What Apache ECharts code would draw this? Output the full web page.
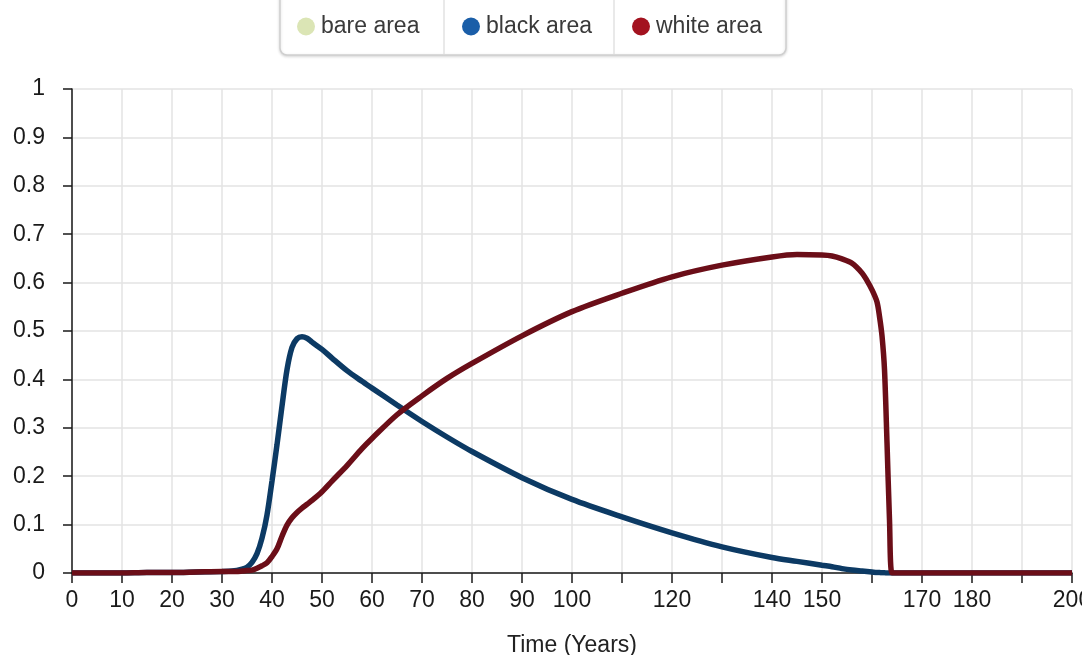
<!DOCTYPE html>
<html>
<head>
<meta charset="utf-8">
<script src="https://cdn.jsdelivr.net/npm/echarts@6/dist/echarts.min.js"></script>
<style>
  html, body { margin: 0; padding: 0; background: #ffffff; }
  #chart { width: 1082px; height: 655px; }
</style>
</head>
<body>
<div id="chart"></div>
<script>
// ---- data ----
const seriesNames = ['bare area', 'black area', 'white area'];
const times = [0, 10, 15, 20, 25, 30, 32, 34, 35, 36, 37, 38, 39, 40, 41, 42, 43, 44, 45, 46, 47, 48, 50, 52, 55, 58, 60, 65, 70, 75, 80, 90, 100, 110, 120, 130, 140, 145, 150, 152, 154, 156, 158, 159, 160, 161, 161.5, 162, 162.5, 163, 163.5, 164, 165, 170, 180, 190, 200];
const blackArea = [0, 0, 0.001, 0.001, 0.002, 0.003, 0.004, 0.008, 0.012, 0.022, 0.04, 0.072, 0.12, 0.19, 0.265, 0.345, 0.42, 0.466, 0.484, 0.488, 0.485, 0.477, 0.462, 0.444, 0.418, 0.396, 0.382, 0.347, 0.313, 0.281, 0.251, 0.197, 0.152, 0.116, 0.083, 0.054, 0.032, 0.024, 0.016, 0.013, 0.009, 0.006, 0.004, 0.003, 0.002, 0.001, 0.0008, 0.0005, 0.0003, 0.0001, 0, 0, 0, 0, 0, 0, 0];
const whiteArea = [0, 0, 0.001, 0.001, 0.002, 0.003, 0.003, 0.004, 0.005, 0.006, 0.01, 0.015, 0.021, 0.034, 0.05, 0.076, 0.099, 0.114, 0.125, 0.134, 0.142, 0.15, 0.168, 0.19, 0.222, 0.257, 0.278, 0.327, 0.366, 0.402, 0.433, 0.49, 0.54, 0.578, 0.612, 0.636, 0.653, 0.658, 0.657, 0.655, 0.649, 0.64, 0.62, 0.604, 0.585, 0.56, 0.53, 0.49, 0.42, 0.27, 0.11, 0, 0, 0, 0, 0, 0];
const bareArea = []; // not visible in the reference
const xTickLabels = [0, 10, 20, 30, 40, 50, 60, 70, 80, 90, 100, 120, 140, 150, 170, 180, 200];
const xAxisTitle = 'Time (Years)';

const legendColors = ['#dbe5b5', '#1a5ea8', '#a3121f'];
const lineColors = ['#dbe5b5', '#0c3a64', '#6b0e18'];

function pairs(xs, ys) { return ys.map((v, i) => [xs[i], v]); }

const chart = echarts.init(document.getElementById('chart'), null, { renderer: 'canvas' });
const FONT = 'Liberation Sans, Arial, sans-serif';
const FS = 23;

function legendFor(i, left) {
  return {
    show: true,
    left: left,
    top: 15,
    padding: 0,
    icon: 'circle',
    itemWidth: 18,
    itemHeight: 18,
    selectedMode: false,
    textStyle: { fontFamily: FONT, fontSize: FS, color: '#3a3a3a', padding: [2, 0, 0, 1] },
    data: [{ name: seriesNames[i], itemStyle: { color: legendColors[i] } }]
  };
}

chart.setOption({
  animation: false,
  backgroundColor: '#ffffff',
  graphic: [
    { type: 'rect', shape: { x: 280, y: -12, width: 506, height: 67, r: 7 },
      style: { fill: '#ffffff', stroke: '#cfcfcf', lineWidth: 1.5, shadowBlur: 3, shadowColor: 'rgba(0,0,0,0.15)', shadowOffsetY: 1 }, z: -1 },
    { type: 'line', shape: { x1: 444, y1: 0, x2: 444, y2: 54 }, style: { stroke: '#e2e2e2', lineWidth: 1.5 }, z: -1 },
    { type: 'line', shape: { x1: 614, y1: 0, x2: 614, y2: 54 }, style: { stroke: '#e2e2e2', lineWidth: 1.5 }, z: -1 }
  ],
  legend: [legendFor(0, 297), legendFor(1, 462), legendFor(2, 632)],
  grid: { left: 72, right: 10, top: 89, bottom: 82, containLabel: false, outerBoundsMode: 'none' },
  xAxis: {
    type: 'value',
    min: 0, max: 200, interval: 10,
    name: xAxisTitle,
    nameLocation: 'middle',
    nameGap: 61,
    nameTextStyle: { fontFamily: FONT, fontSize: FS, color: '#222' },
    axisLine: { show: true, onZero: false, lineStyle: { color: '#1a1a1a', width: 1.5 } },
    axisTick: { show: true, length: 10, lineStyle: { color: '#1a1a1a', width: 1.5 } },
    axisLabel: {
      fontFamily: FONT, fontSize: FS, color: '#1a1a1a', margin: 16,
      showMaxLabel: true, showMinLabel: true, hideOverlap: false,
      formatter: v => xTickLabels.indexOf(Math.round(v)) >= 0 ? String(Math.round(v)) : ''
    },
    splitLine: { show: true, lineStyle: { color: '#e3e3e3', width: 1.5 } }
  },
  yAxis: {
    type: 'value',
    min: 0, max: 1, interval: 0.1,
    axisLine: { show: true, lineStyle: { color: '#1a1a1a', width: 1.5 } },
    axisTick: { show: true, length: 9, lineStyle: { color: '#1a1a1a', width: 1.5 } },
    axisLabel: {
      fontFamily: FONT, fontSize: FS, color: '#1a1a1a', margin: 27,
      formatter: v => String(Math.round(v * 10) / 10)
    },
    splitLine: { show: true, lineStyle: { color: '#e3e3e3', width: 1.5 } }
  },
  series: [
    { name: seriesNames[0], type: 'line', data: pairs(times, bareArea), showSymbol: false, symbol: 'none',
      color: legendColors[0], lineStyle: { color: lineColors[0], width: 5.5 } },
    { name: seriesNames[1], type: 'line', data: pairs(times, blackArea), showSymbol: false, symbol: 'none',
      smooth: 0.3, color: legendColors[1], lineStyle: { color: lineColors[1], width: 5.5 } },
    { name: seriesNames[2], type: 'line', data: pairs(times, whiteArea), showSymbol: false, symbol: 'none',
      smooth: 0.3, color: legendColors[2], lineStyle: { color: lineColors[2], width: 5.5 } }
  ]
});
</script>
</body>
</html>
